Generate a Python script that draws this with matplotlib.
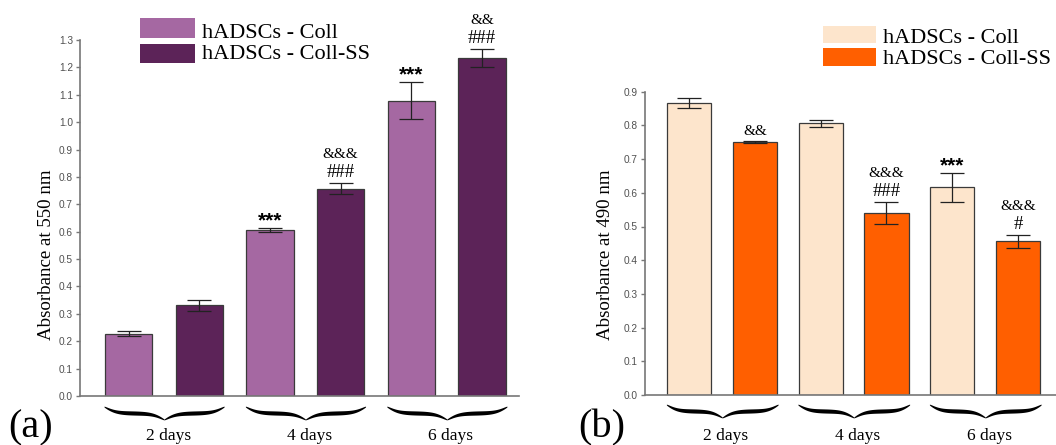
import numpy as np
import matplotlib
matplotlib.use('Agg')
import matplotlib.pyplot as plt
from matplotlib.patches import Rectangle, Polygon
from matplotlib.transforms import blended_transform_factory

W, H = 1056, 445

groups = ['2 days', '4 days', '6 days']
series = ['hADSCs - Coll', 'hADSCs - Coll-SS']

# panel (a) - absorbance at 550 nm
a_coll = [0.228, 0.606, 1.078]
a_coll_err = [0.010, 0.007, 0.068]
a_ss = [0.331, 0.757, 1.235]
a_ss_err = [0.020, 0.020, 0.032]
a_coll_marks = [[], ['***'], ['***']]
a_ss_marks = [[], ['###', '&&&'], ['###', '&&']]

# panel (b) - absorbance at 490 nm
b_coll = [0.866, 0.806, 0.616]
b_coll_err = [0.015, 0.010, 0.043]
b_ss = [0.751, 0.540, 0.456]
b_ss_err = [0.002, 0.032, 0.019]
b_coll_marks = [[], [], ['***']]
b_ss_marks = [['&&'], ['###', '&&&'], ['#', '&&&']]

a_colors = ['#A568A2', '#5C2358']
b_colors = ['#FDE5CC', '#FF5F00']

SERIF = 'Liberation Serif'
SANS = 'Liberation Sans'


def fx(px):
    return px / W


def fy(py):
    return 1 - py / H


def draw_brace(fig, ax, x0, x1, ytop, ybot, tmax=3.6):
    tr = blended_transform_factory(ax.transData, fig.transFigure)
    v = np.linspace(0, 1, 200)
    beta = 10.0
    yh = 1 / (1 + np.exp(-beta * v)) + 1 / (1 + np.exp(-beta * (v - 1)))
    yh = (yh - yh[0]) / (yh[-1] - yh[0])
    th = tmax * np.clip(np.sin(np.pi * v), 0, 1) ** 0.5 + 0.5
    xm = (x0 + x1) / 2
    xs = np.concatenate([x0 + (xm - x0) * v, xm + (x1 - xm) * v[1:]])
    yc = np.concatenate([yh, yh[::-1][1:]]) * (ybot - ytop) + ytop
    tt = np.concatenate([th, th[::-1][1:]])
    up = yc - tt / 2
    lo = yc + tt / 2
    px = np.concatenate([xs, xs[::-1]])
    py = np.concatenate([up, lo[::-1]])
    poly = Polygon(np.column_stack([px, fy(py)]), closed=True, transform=tr,
                   facecolor='black', edgecolor='none', clip_on=False)
    fig.add_artist(poly)


def panel(fig, rect_px, ylim, yticks, coll, coll_err, ss, ss_err, coll_marks, ss_marks,
          colors, ylabel, ylabel_x, letter, letter_xy, legend_px, brace_y, xlim):
    left, top, right, bottom = rect_px
    ax = fig.add_axes([fx(left), fy(bottom), fx(right) - fx(left), fy(top) - fy(bottom)])
    x_coll = np.arange(len(groups)) * 2
    x_ss = x_coll + 1
    err_kw = dict(ecolor='#222222', elinewidth=0.9, capsize=8.5, capthick=0.9)
    ax.bar(x_coll, coll, width=0.67, color=colors[0], edgecolor='#3a3a3a', linewidth=0.9,
           yerr=coll_err, error_kw=err_kw, zorder=2)
    ax.bar(x_ss, ss, width=0.67, color=colors[1], edgecolor='#3a3a3a', linewidth=0.9,
           yerr=ss_err, error_kw=err_kw, zorder=2)
    ax.set_ylim(*ylim)
    ax.set_xlim(*xlim)
    ax.set_yticks(yticks)
    ax.set_yticklabels(['%.1f' % t for t in yticks], fontname=SANS, fontsize=7.3, color='#505050')
    ax.set_xticks([])
    for s in ['top', 'right']:
        ax.spines[s].set_visible(False)
    for s in ['left', 'bottom']:
        ax.spines[s].set_color('#777777')
        ax.spines[s].set_linewidth(1.2)
    ax.tick_params(axis='y', length=3, width=1, color='#777777', pad=2)

    # significance marks, stacked upward from the error bar top
    for xs_, vals, errs, marks in [(x_coll, coll, coll_err, coll_marks), (x_ss, ss, ss_err, ss_marks)]:
        for x, v, e, mk in zip(xs_, vals, errs, marks):
            off = 6
            for m in mk:
                if m.startswith('*'):
                    ax.annotate(m, (x, v + e), xytext=(0, off - 4), textcoords='offset pixels',
                                ha='center', va='baseline', fontname=SANS, fontweight='bold',
                                fontsize=15)
                elif m.startswith('#'):
                    ax.annotate(m, (x, v + e), xytext=(0, off), textcoords='offset pixels',
                                ha='center', va='baseline', fontname=SERIF, fontsize=13.5)
                else:
                    ax.annotate(m, (x, v + e), xytext=(0, off), textcoords='offset pixels',
                                ha='center', va='baseline', fontname=SERIF, fontsize=11)
                off += 19

    # group braces and labels
    tr = blended_transform_factory(ax.transData, fig.transFigure)
    for g, name in enumerate(groups):
        c = 2 * g + 0.5
        draw_brace(fig, ax, c - 0.84, c + 0.86, brace_y[0], brace_y[1])
        ax.text(c + 0.06, fy(brace_y[2]), name, transform=tr,
                ha='center', va='baseline', fontname=SERIF, fontsize=12.5, clip_on=False)

    fig.text(fx(ylabel_x), fy(255), ylabel, rotation=90, ha='center', va='center',
             fontname=SERIF, fontsize=13.6)
    fig.text(fx(letter_xy[0]), fy(letter_xy[1]), letter, ha='left', va='baseline',
             fontname=SERIF, fontsize=29)

    # legend
    lx0, lx1, rows = legend_px
    for (y0, y1, base), name, col in zip(rows, series, colors):
        fig.add_artist(Rectangle((fx(lx0), fy(y1)), fx(lx1) - fx(lx0), fy(y0) - fy(y1),
                                 transform=fig.transFigure, facecolor=col, edgecolor='none'))
        fig.text(fx(lx1 + 7), fy(base), name, ha='left', va='baseline', fontname=SERIF, fontsize=16)
    return ax


fig = plt.figure(figsize=(W / 100, H / 100), dpi=100)

panel(fig, (80, 40, 519, 396), (0, 1.3), np.arange(0, 1.31, 0.1),
      a_coll, a_coll_err, a_ss, a_ss_err, a_coll_marks, a_ss_marks, a_colors,
      'Absorbance at 550 nm', 47, '(a)', (8, 437),
      (140, 195, [(18, 38, 37.7), (44, 63, 59.3)]), (407, 420, 440.5), (-0.686, 5.523))

panel(fig, (644.7, 91.7, 1056, 395), (0, 0.9), np.arange(0, 0.91, 0.1),
      b_coll, b_coll_err, b_ss, b_ss_err, b_coll_marks, b_ss_marks, b_colors,
      'Absorbance at 490 nm', 606, '(b)', (578, 437),
      (823, 876, [(26, 43.3, 42.7), (48, 65.7, 64)]), (405, 418, 440), (-0.677, 5.578))

fig.savefig('out.png', dpi=100)
